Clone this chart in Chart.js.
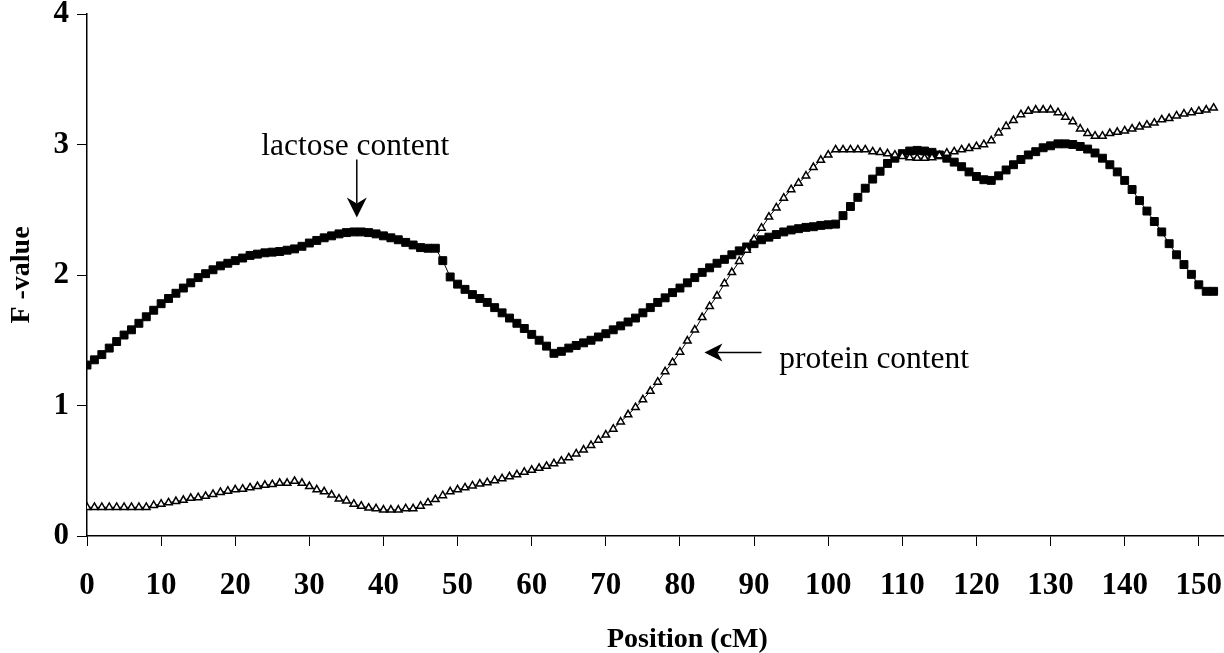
<!DOCTYPE html>
<html>
<head>
<meta charset="utf-8">
<script src="https://cdn.jsdelivr.net/npm/chart.js@4.4.1/dist/chart.umd.min.js"></script>
<style>
  html, body { margin: 0; padding: 0; background: #ffffff; }
  #wrap { width: 1224px; height: 653px; position: relative; }
</style>
</head>
<body>
<div id="wrap"><canvas id="c" width="1224" height="653"></canvas></div>
<script>
// Position (cM)
const positions = [
  0,1,2,3,4,5,6,7,8,9,10,11,12,13,14,15,16,17,18,19,20,21,22,23,24,25,26,27,28,29,
  30,31,32,33,34,35,36,37,38,39,40,41,42,43,44,45,46,47,48,49,50,51,52,53,54,55,56,57,58,59,
  60,61,62,63,64,65,66,67,68,69,70,71,72,73,74,75,76,77,78,79,80,81,82,83,84,85,86,87,88,89,
  90,91,92,93,94,95,96,97,98,99,100,101,102,103,104,105,106,107,108,109,110,111,112,113,114,115,116,117,118,119,
  120,121,122,123,124,125,126,127,128,129,130,131,132,133,134,135,136,137,138,139,140,141,142,143,144,145,146,147,148,149,
  150,151,152
];

// F-value, lactose content (filled squares)
const lactose = [
  1.31,1.35,1.39,1.44,1.49,1.54,1.58,1.63,1.68,1.73,
  1.78,1.82,1.86,1.90,1.94,1.98,2.01,2.04,2.07,2.09,
  2.11,2.13,2.15,2.16,2.17,2.175,2.18,2.19,2.20,2.22,
  2.245,2.265,2.285,2.30,2.315,2.325,2.33,2.33,2.325,2.315,
  2.30,2.285,2.27,2.25,2.23,2.21,2.205,2.205,2.11,1.985,
  1.93,1.89,1.85,1.82,1.79,1.75,1.71,1.67,1.63,1.59,
  1.545,1.50,1.455,1.40,1.415,1.44,1.46,1.48,1.50,1.525,
  1.55,1.58,1.61,1.64,1.67,1.71,1.75,1.79,1.825,1.865,
  1.90,1.94,1.98,2.02,2.055,2.09,2.12,2.155,2.185,2.215,
  2.24,2.27,2.29,2.31,2.33,2.345,2.355,2.365,2.37,2.38,
  2.385,2.39,2.455,2.525,2.595,2.665,2.735,2.795,2.855,2.895,
  2.93,2.95,2.955,2.95,2.94,2.92,2.895,2.865,2.83,2.79,
  2.755,2.73,2.725,2.76,2.805,2.845,2.885,2.92,2.945,2.975,
  2.99,3.005,3.005,3.00,2.985,2.965,2.935,2.895,2.845,2.79,
  2.725,2.655,2.57,2.49,2.41,2.33,2.24,2.155,2.08,2.005,
  1.925,1.875,1.875
];

// F-value, protein content (open triangles)
const protein = [
  0.22,0.22,0.22,0.22,0.22,0.22,0.22,0.22,0.22,0.235,
  0.245,0.255,0.265,0.275,0.29,0.295,0.305,0.32,0.335,0.345,
  0.355,0.36,0.37,0.38,0.39,0.395,0.405,0.405,0.42,0.405,
  0.38,0.355,0.34,0.315,0.285,0.27,0.245,0.23,0.215,0.21,
  0.20,0.20,0.20,0.21,0.21,0.23,0.255,0.28,0.31,0.34,
  0.355,0.37,0.385,0.40,0.41,0.425,0.44,0.455,0.47,0.49,
  0.505,0.52,0.535,0.555,0.575,0.60,0.63,0.66,0.695,0.735,
  0.775,0.82,0.875,0.93,0.985,1.045,1.11,1.18,1.26,1.33,
  1.41,1.495,1.58,1.675,1.76,1.84,1.935,2.02,2.105,2.19,
  2.275,2.36,2.445,2.515,2.59,2.655,2.705,2.76,2.825,2.88,
  2.92,2.96,2.96,2.96,2.96,2.96,2.945,2.94,2.93,2.92,
  2.91,2.90,2.895,2.895,2.90,2.915,2.935,2.945,2.96,2.97,
  2.985,3.00,3.03,3.09,3.14,3.185,3.23,3.255,3.265,3.265,
  3.265,3.245,3.21,3.175,3.12,3.085,3.065,3.065,3.085,3.095,
  3.105,3.12,3.135,3.15,3.165,3.19,3.20,3.22,3.235,3.245,
  3.255,3.265,3.28
];

const xTicks = [0,10,20,30,40,50,60,70,80,90,100,110,120,130,140,150];
const yTicks = [0,1,2,3,4];
const seriesNames = ['protein content', 'lactose content'];
const xTitle = 'Position (cM)';
const yTitle = 'F -value';

const toPoints = (vals) => positions.map((p, i) => ({ x: p, y: vals[i] }));

const SERIF = "'Liberation Serif', 'Times New Roman', Times, serif";

const annotationPlugin = {
  id: 'annot',
  afterDatasetsDraw(chart, args, opts) {
    const { ctx, scales: { x, y } } = chart;
    ctx.save();
    ctx.fillStyle = '#000';
    ctx.strokeStyle = '#000';
    ctx.font = "31.5px " + SERIF;
    ctx.textBaseline = 'alphabetic';
    (opts.items || []).forEach(it => {
      ctx.textAlign = it.align;
      ctx.fillText(it.text, x.getPixelForValue(it.tx), y.getPixelForValue(it.ty));
      const x1 = x.getPixelForValue(it.ax1), y1 = y.getPixelForValue(it.ay1);
      const x2 = x.getPixelForValue(it.ax2), y2 = y.getPixelForValue(it.ay2);
      const ang = Math.atan2(y2 - y1, x2 - x1);
      const L = it.headLen, W = it.headHalf, N = it.notch;
      const bx = x2 - Math.cos(ang) * (L - N), by = y2 - Math.sin(ang) * (L - N);
      ctx.lineWidth = 1.5;
      ctx.beginPath();
      ctx.moveTo(x1, y1);
      ctx.lineTo(bx, by);
      ctx.stroke();
      const px = -Math.sin(ang), py = Math.cos(ang);
      const cx = x2 - Math.cos(ang) * L, cy = y2 - Math.sin(ang) * L;
      ctx.beginPath();
      ctx.moveTo(x2, y2);
      ctx.lineTo(cx + px * W, cy + py * W);
      ctx.lineTo(bx, by);
      ctx.lineTo(cx - px * W, cy - py * W);
      ctx.closePath();
      ctx.fill();
    });
    // x-axis title (centred under the full, uncropped plot width)
    ctx.font = "bold 28px " + SERIF;
    ctx.textAlign = 'center';
    ctx.textBaseline = 'middle';
    ctx.fillText(opts.xTitle, x.getPixelForValue(opts.xTitleAt), 640);
    ctx.restore();
  }
};

new Chart(document.getElementById('c'), {
  type: 'line',
  data: {
    datasets: [
      {
        label: seriesNames[0],
        data: toPoints(protein),
        borderColor: '#000',
        borderWidth: 1,
        pointStyle: 'triangle',
        pointRadius: 4.3,
        pointBackgroundColor: '#fff',
        pointBorderColor: '#000',
        pointBorderWidth: 1.5,
        tension: 0,
        fill: false
      },
      {
        label: seriesNames[1],
        data: toPoints(lactose),
        borderColor: '#000',
        borderWidth: 1,
        pointStyle: 'rect',
        pointRadius: 5.6,
        pointBackgroundColor: '#000',
        pointBorderColor: '#000',
        pointBorderWidth: 1,
        tension: 0,
        fill: false
      }
    ]
  },
  options: {
    responsive: false,
    animation: false,
    devicePixelRatio: 1,
    layout: { padding: 0, autoPadding: false },
    plugins: {
      legend: { display: false },
      tooltip: { enabled: false },
      annot: {
        xTitle: xTitle,
        xTitleAt: 81.0,
        items: [
          { text: 'lactose content', align: 'center', tx: 36.2, ty: 2.92,
            ax1: 36.4, ay1: 2.885, ax2: 36.4, ay2: 2.44, headLen: 20, headHalf: 10, notch: 6 },
          { text: 'protein content', align: 'left', tx: 93.4, ty: 1.29,
            ax1: 91.0, ay1: 1.407, ax2: 83.3, ay2: 1.407, headLen: 18, headHalf: 9, notch: 5 }
        ]
      }
    },
    scales: {
      x: {
        type: 'linear',
        min: 0,
        max: 153.4,
        afterBuildTicks: (s) => { s.ticks = xTicks.map(v => ({ value: v })); },
        afterFit: (s) => { s.height = 117; s.paddingLeft = 0; s.paddingRight = 0; },
        grid: { drawOnChartArea: false, drawTicks: true, tickLength: 10, color: '#000', lineWidth: 1 },
        border: { display: true, color: '#000', width: 1.5 },
        ticks: {
          color: '#000',
          padding: 21,
          maxRotation: 0,
          autoSkip: false,
          font: { family: SERIF, size: 31, weight: 'bold' }
        },
        title: { display: false }
      },
      y: {
        type: 'linear',
        min: 0,
        max: 4,
        afterBuildTicks: (s) => { s.ticks = yTicks.map(v => ({ value: v })); },
        afterFit: (s) => { s.width = 87; s.paddingTop = 14; s.paddingBottom = 0; },
        grid: { drawOnChartArea: false, drawTicks: true, tickLength: 10, color: '#000', lineWidth: 1 },
        border: { display: true, color: '#000', width: 1.5 },
        ticks: {
          color: '#000',
          padding: 8,
          font: { family: SERIF, size: 31, weight: 'bold' }
        },
        title: {
          display: true,
          text: yTitle,
          color: '#000',
          font: { family: SERIF, size: 28, weight: 'bold', lineHeight: 1 },
          padding: { top: 8, bottom: 0 }
        }
      }
    }
  },
  plugins: [annotationPlugin]
});
</script>
</body>
</html>
